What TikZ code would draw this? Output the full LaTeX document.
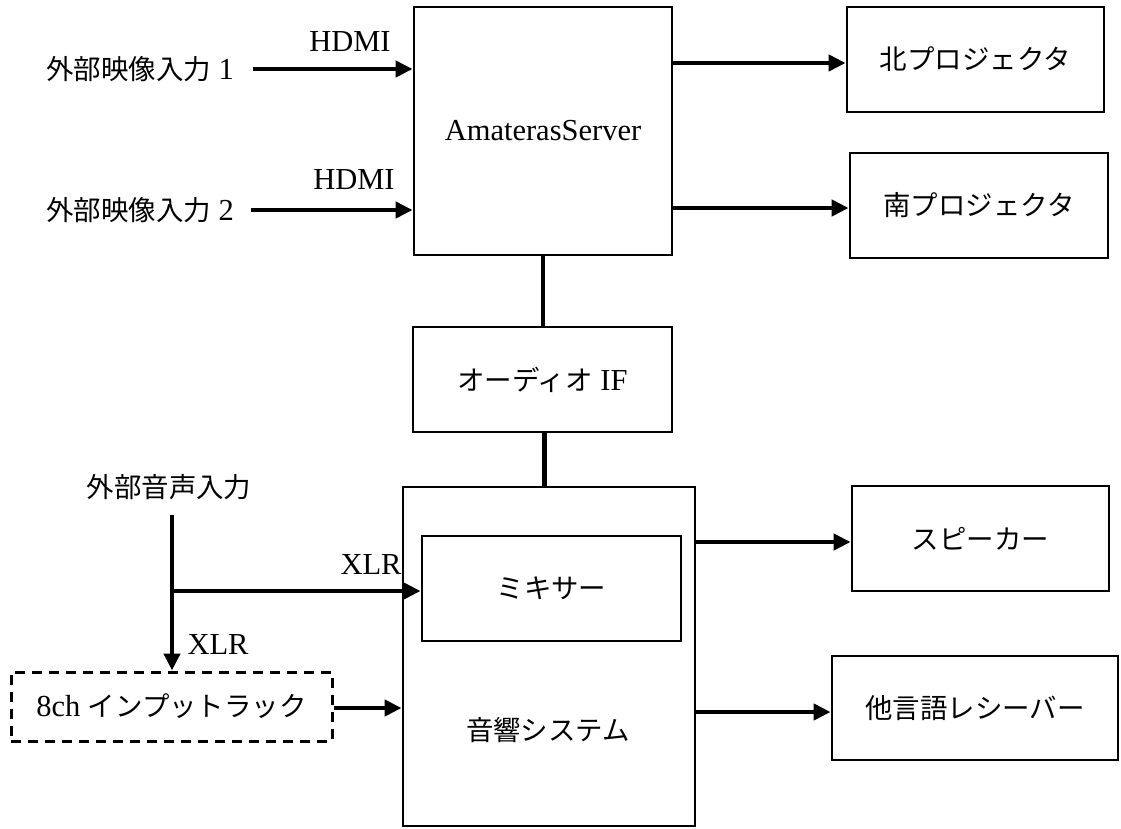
\documentclass[tikz,border=0pt]{standalone}
\usepackage{fontspec}
\setmainfont{Liberation Serif}
\newfontfamily\cjk[Scale=0.9]{Noto Sans CJK JP}
\usetikzlibrary{arrows.meta}
\begin{document}
\begin{tikzpicture}[x=1pt,y=-1pt,
  font=\fontsize{30.5}{33}\selectfont,
  box/.style={draw, line width=2.8pt, inner sep=0pt},
  dbox/.style={draw, line width=3pt, inner sep=0pt, dash pattern=on 10pt off 7pt},
  conn/.style={line width=4.4pt},
  arr/.style={line width=4.4pt, -{Triangle[length=17pt,width=16pt]}},
  lbl/.style={inner sep=0pt}]
\useasboundingbox (0,0) rectangle (1121,828);
% boxes
\node[box, minimum width=258pt, minimum height=248pt] (srv) at (543,131) {AmaterasServer};
\node[box, minimum width=257pt, minimum height=105pt] (nth) at (975.5,59.5) {\cjk 北プロジェクタ};
\node[box, minimum width=258pt, minimum height=105pt] (sth) at (979,205.5) {\cjk 南プロジェクタ};
\node[box, minimum width=259pt, minimum height=105pt] (aif) at (542.5,379.5) {{\cjk オーディオ} IF};
\node[box, minimum width=292pt, minimum height=339pt] (snd) at (549,656.5) {};
\node[lbl] (sndlbl) at (548,730) {\cjk 音響システム};
\node[box, minimum width=259pt, minimum height=105pt] (mix) at (551.5,588.5) {\cjk ミキサー};
\node[box, minimum width=257pt, minimum height=105pt] (spk) at (980.5,538.5) {\cjk スピーカー};
\node[box, minimum width=286pt, minimum height=104pt] (rcv) at (975,708) {\cjk 他言語レシーバー};
\node[dbox, minimum width=321pt, minimum height=69pt] (rack) at (171.5,706.5) {8ch {\cjk インプットラック}};
% free texts
\node[lbl] (ext1) at (140,69) {{\cjk 外部映像入力} 1};
\node[lbl] (ext2) at (140,210) {{\cjk 外部映像入力} 2};
\node[lbl] (ain) at (169,487) {\cjk 外部音声入力};
\node[lbl] (hdmi1) at (350,42) {HDMI};
\node[lbl] (hdmi2) at (354,180) {HDMI};
\node[lbl] (xlr1) at (371,565) {XLR};
\node[lbl] (xlr2) at (218,645) {XLR};
% coordinates
\coordinate (e1) at (253,69);
\coordinate (e2) at (251,210);
\coordinate (atop) at (172,515);
\coordinate (br) at (172,591);
% connectors
\draw[arr] (e1) -- (srv.west |- e1);
\draw[arr] (e2) -- (srv.west |- e2);
\draw[arr] (srv.east |- 0,63) -- (nth.west |- 0,63);
\draw[arr] (srv.east |- 0,208) -- (sth.west |- 0,208);
\draw[conn] (srv.south) -- (srv.south |- aif.north);
\draw[conn] ([xshift=2pt]aif.south) -- ([xshift=2pt]aif.south |- snd.north);
\draw[arr] (atop) -- (atop |- rack.north);
\draw[arr] (br) -- (mix.west |- br);
\draw[arr] (rack.east |- 0,708) -- (snd.west |- 0,708);
\draw[arr] (snd.east |- 0,542) -- (spk.west |- 0,542);
\draw[arr] (snd.east |- 0,712) -- (rcv.west |- 0,712);
\end{tikzpicture}
\end{document}
